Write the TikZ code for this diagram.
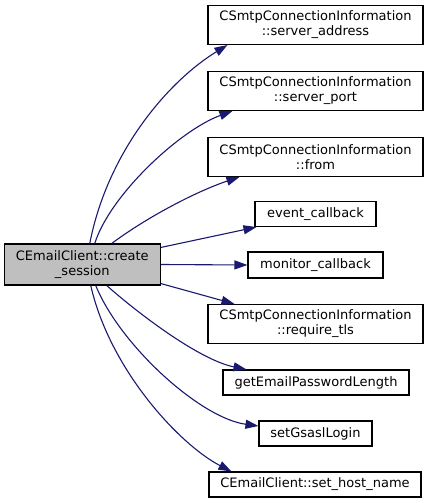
\documentclass[tikz,border=0pt]{standalone}
\usepackage{fontspec}
\setmainfont{DejaVu Sans}
\usetikzlibrary{arrows.meta,calc}
\definecolor{edgeblue}{HTML}{191970}
\definecolor{mainfill}{HTML}{BFBFBF}
\begin{document}
\begin{tikzpicture}[x=1pt,y=-1pt,
  box/.style={draw=black,fill=white,line width=1.1pt,inner sep=0pt,align=center,
    font=\fontsize{13}{15}\selectfont},
  mainbox/.style={box,fill=mainfill},
  call/.style={draw=edgeblue,line width=1.1pt,-{Triangle[length=13pt,width=9pt,fill=edgeblue]}}]
\path[use as bounding box] (0,0) rectangle (429,503);
\node[mainbox,minimum width=156pt,minimum height=41pt] (main) at (82.3,264.5) {CEmailClient::create\\\_session};
\node[box,minimum width=215pt,minimum height=39pt] (n1) at (315.5,25) {CSmtpConnectionInformation\\::server\_address};
\node[box,minimum width=215pt,minimum height=39pt] (n2) at (315.5,91) {CSmtpConnectionInformation\\::server\_port};
\node[box,minimum width=215pt,minimum height=39pt] (n3) at (315.5,157) {CSmtpConnectionInformation\\::from};
\node[box,minimum width=121pt,minimum height=25pt] (n4) at (315.5,214) {event\_callback};
\node[box,minimum width=135pt,minimum height=26pt] (n5) at (315.5,265) {monitor\_callback};
\node[box,minimum width=215pt,minimum height=39pt] (n6) at (315.5,324) {CSmtpConnectionInformation\\::require\_tls};
\node[box,minimum width=186pt,minimum height=25pt] (n7) at (316,382.5) {getEmailPasswordLength};
\node[box,minimum width=113pt,minimum height=25pt] (n8) at (315.5,433.5) {setGsaslLogin};
\node[box,minimum width=212pt,minimum height=25pt] (n9) at (315,484.5) {CEmailClient::set\_host\_name};
% edges
\draw[call] ($(main.north west)+(86,0)$) .. controls (108,150) and (170,80) .. ($(n1.south west)+(20,0)$);
\draw[call] ($(main.north west)+(91,0)$) .. controls (110,195) and (180,130) .. ($(n2.south west)+(25,0)$);
\draw[call] ($(main.north west)+(108,0)$) .. controls (150,215) and (200,190) .. ($(n3.south west)+(32,0)$);
\draw[call] ($(main.north east)+(0,4)$) -- ($(n4.south west)+(2,0)$);
\draw[call] (main.east) -- (n5.west);
\draw[call] ($(main.south east)+(0,-2)$) -- ($(n6.north west)+(27,0)$);
\draw[call] ($(main.south west)+(103,0)$) .. controls (140,315) and (200,360) .. ($(n7.north west)+(24,0)$);
\draw[call] ($(main.south west)+(92,0)$) .. controls (120,345) and (200,418) .. ($(n8.west)+(0,-7.5)$);
\draw[call] ($(main.south west)+(87,0)$) .. controls (110,370) and (180,445) .. ($(n9.north west)+(23,0)$);
\end{tikzpicture}
\end{document}
